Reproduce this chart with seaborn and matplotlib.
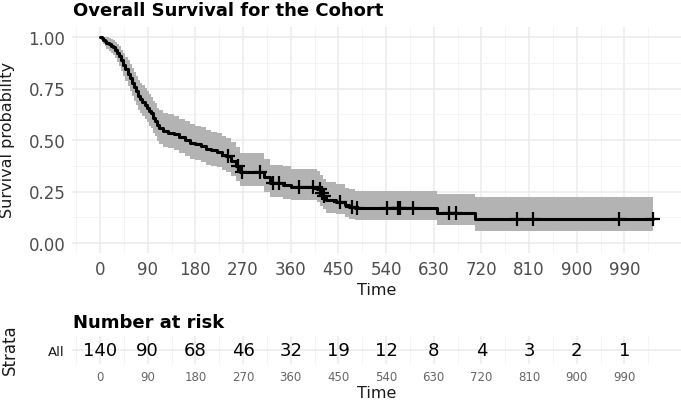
import numpy as np
import pandas as pd
import matplotlib
matplotlib.use("Agg")
import matplotlib.pyplot as plt
import seaborn as sns

# Kaplan-Meier steps
step_time = [0, 3, 6, 9, 12, 16, 20, 24, 28, 32, 36, 40, 44, 48, 52, 56, 60, 64, 68, 72,
             76, 80, 84, 88, 92, 96, 100, 104, 108, 112, 118, 128, 140, 150, 160, 170, 180,
             190, 200, 210, 220, 230, 237, 248, 256, 264, 310, 321, 345, 360, 410, 416, 421,
             426, 445, 462, 470, 481, 636, 708, 1044]
surv = [1.0, .993, .986, .979, .971, .964, .957, .950, .936, .921, .907, .886, .864, .843,
        .821, .800, .779, .757, .736, .714, .700, .686, .671, .657, .643, .629, .607, .593,
        .571, .557, .543, .536, .529, .514, .50, .486, .479, .471, .457, .45, .443, .429, .42,
        .40, .375, .346, .32, .29, .283, .273, .262, .245, .228, .21, .20, .185, .176, .168,
        .145, .117, .117]
lower = [1.0, .979, .966, .955, .944, .934, .924, .914, .896, .877, .860, .836, .810, .786,
         .761, .738, .715, .691, .668, .645, .630, .615, .600, .585, .570, .556, .533, .518,
         .496, .481, .467, .46, .452, .438, .424, .41, .403, .395, .381, .374, .367, .354, .345,
         .326, .302, .275, .25, .222, .215, .208, .198, .18, .165, .148, .14, .125, .118, .112,
         .088, .058, .058]
upper = [1.0, 1.0, 1.0, 1.0, .999, .995, .99, .986, .977, .966, .956, .939, .921, .904, .886,
         .868, .849, .830, .811, .791, .778, .765, .751, .738, .724, .711, .691, .678, .657,
         .644, .631, .624, .618, .604, .59, .576, .57, .562, .548, .541, .534, .52, .511, .49,
         .465, .436, .41, .38, .372, .36, .35, .33, .31, .295, .285, .268, .26, .254, .24,
         .225, .225]
censor_time = [242, 261, 268, 302, 327, 337, 376, 403, 415, 420, 423, 453, 475, 485, 542,
               563, 567, 590, 659, 673, 788, 817, 979, 1044]

# number at risk table
risk_time = [0, 90, 180, 270, 360, 450, 540, 630, 720, 810, 900, 990]
at_risk = [140, 90, 68, 46, 32, 19, 12, 8, 4, 3, 2, 1]

km = pd.DataFrame({"time": step_time, "surv": surv, "lower": lower, "upper": upper})
idx = np.searchsorted(step_time, censor_time, side="right") - 1
cens = pd.DataFrame({"time": censor_time, "surv": np.array(surv)[idx]})

sns.set_theme(style="white")
plt.rcParams['font.family'] = ['DejaVu Sans']

W, H = 681, 402
fig = plt.figure(figsize=(W / 100, H / 100), dpi=100)
xlim = (-52.2, 1096)
grid_major = dict(color="#EBEBEB", lw=1.1)
grid_minor = dict(color="#F2F2F2", lw=0.6)

# main panel
ax = fig.add_axes([72.4 / W, 1 - 254.3 / H, (680.5 - 72.4) / W, (254.3 - 27.7) / H])
ax.fill_between(km["time"], km["lower"], km["upper"], step="post", color="#b3b3b3", lw=0)
sns.lineplot(data=km, x="time", y="surv", drawstyle="steps-post", color="black", lw=2.2, ax=ax)
sns.scatterplot(data=cens, x="time", y="surv", marker="+", s=110, color="black",
                linewidth=1.6, ax=ax, zorder=5)
ax.set_xlim(xlim)
ax.set_ylim(-0.05, 1.05)
ax.set_xticks(risk_time)
ax.set_xticks(np.arange(-45, 1096, 90), minor=True)
ax.set_yticks([0, .25, .5, .75, 1])
ax.set_yticks([.125, .375, .625, .875], minor=True)
ax.set_yticklabels(["0.00", "0.25", "0.50", "0.75", "1.00"])
ax.grid(which="major", **grid_major)
ax.grid(which="minor", **grid_minor)
ax.set_axisbelow(True)
for s in ax.spines.values():
    s.set_visible(False)
ax.tick_params(which="major", length=3, width=1, color="#333333", labelcolor="#4D4D4D",
               labelsize=12, pad=2)
ax.tick_params(which="minor", length=0)
ax.set_xlabel("Time", fontsize=11.5, color="#1a1a1a", labelpad=3)
ax.set_ylabel("")
fig.text(8 / W, 1 - 140 / H, "Survival probability", rotation=90, ha="center", va="center",
         fontsize=11.5, color="#1a1a1a")
fig.text(73 / W, 1 - 16 / H, "Overall Survival for the Cohort", ha="left", va="baseline",
         fontsize=13, fontweight="bold", color="black")

# risk table
ax2 = fig.add_axes([72.4 / W, 1 - 365 / H, (680.5 - 72.4) / W, 28 / H])
for t, n in zip(risk_time, at_risk):
    ax2.text(t, 1, str(n), ha="center", va="center", fontsize=13, color="black")
ax2.set_xlim(xlim)
ax2.set_ylim(0.5, 1.5)
ax2.set_xticks(risk_time)
ax2.set_xticks(np.arange(-45, 1096, 90), minor=True)
ax2.set_yticks([1])
ax2.set_yticklabels(["All"])
ax2.grid(which="major", **grid_major)
ax2.grid(which="minor", axis="x", **grid_minor)
ax2.set_axisbelow(True)
for s in ax2.spines.values():
    s.set_visible(False)
ax2.tick_params(axis="x", length=0, labelsize=8.5, labelcolor="#666666", pad=4)
ax2.tick_params(axis="y", length=0, labelsize=9.5, labelcolor="#1a1a1a", pad=6)
ax2.tick_params(which="minor", length=0)
ax2.set_xlabel("Time", fontsize=11.5, color="#1a1a1a", labelpad=2)
fig.text(10 / W, 1 - 350 / H, "Strata", rotation=90, ha="center", va="center",
         fontsize=12, color="#1a1a1a")
fig.text(73 / W, 1 - 328 / H, "Number at risk", ha="left", va="baseline",
         fontsize=13, fontweight="bold", color="black")

fig.savefig("out.png", dpi=100, facecolor="white")
